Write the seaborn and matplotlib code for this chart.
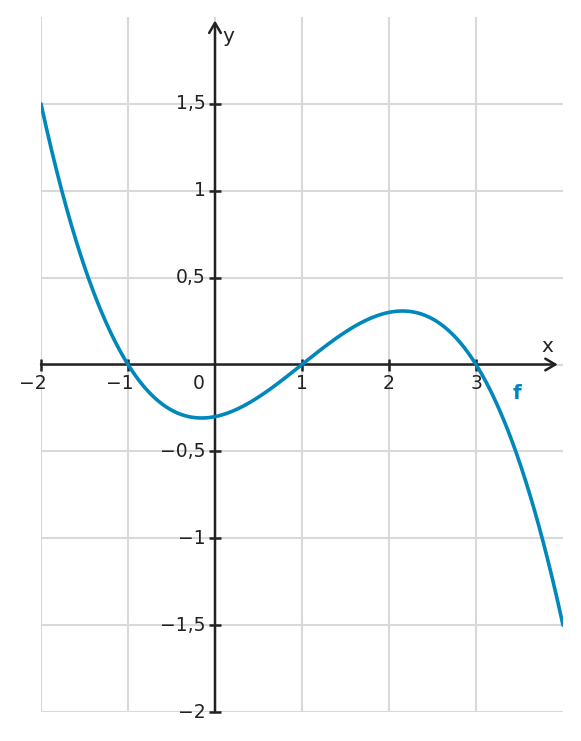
import numpy as np
import pandas as pd
import matplotlib
matplotlib.use("Agg")
import matplotlib.pyplot as plt
import seaborn as sns

# -------------------------
# Data: f(x) = a (x - r1)(x - r2)(x - r3)
# -------------------------
roots = [-1, 1, 3]
scale = -0.1
x_range = [-2, 4]
y_range = [-2, 2]
x_ticks = [-2, -1, 1, 2, 3]
x_tick_labels = ["\u22122", "\u22121", "1", "2", "3"]
y_ticks = [1.5, 1, 0.5, -0.5, -1, -1.5, -2]
y_tick_labels = ["1,5", "1", "0,5", "\u22120,5", "\u22121", "\u22121,5", "\u22122"]

xs = np.linspace(x_range[0], x_range[1], 600)
ys = scale * np.prod([xs - r for r in roots], axis=0)
df = pd.DataFrame({"x": xs, "y": ys})

# -------------------------
# Style
# -------------------------
sns.set_theme(style="white")
plt.rcParams["font.family"] = ["DejaVu Sans"]
axis_col = "#222222"
grid_col = "#d9d9d9"
curve_col = "#0087bb"
fs = 13.5

fig = plt.figure(figsize=(5.81, 7.41), dpi=100)
ax = fig.add_axes([41 / 581, 29 / 741, 522 / 581, 695 / 741])
ax.set_xlim(*x_range)
ax.set_ylim(*y_range)
for s in ax.spines.values():
    s.set_visible(False)

# grid
ax.set_xticks([-2, -1, 0, 1, 2, 3])
ax.set_yticks([-2, -1.5, -1, -0.5, 0, 0.5, 1, 1.5])
ax.grid(True, color=grid_col, linewidth=1.5)
ax.tick_params(length=0, labelbottom=False, labelleft=False)

# curve
sns.lineplot(data=df, x="x", y="y", ax=ax, color=curve_col, linewidth=2.6, zorder=5)
ax.set_xlabel("")
ax.set_ylabel("")

# axes with arrows
arrow = dict(arrowstyle="->,head_length=0.6,head_width=0.35", color=axis_col,
             linewidth=1.8, shrinkA=0, shrinkB=0)
ax.annotate("", xy=(3.94, 0), xytext=(-2, 0), arrowprops=arrow, zorder=4,
            annotation_clip=False)
ax.annotate("", xy=(0, 1.98), xytext=(0, -2), arrowprops=arrow, zorder=4,
            annotation_clip=False)

# tick marks
ax.plot(x_ticks, [0] * len(x_ticks), linestyle="none", marker="|", markersize=9,
        markeredgewidth=1.8, color=axis_col, zorder=4, clip_on=False)
ax.plot([0] * len(y_ticks), y_ticks, linestyle="none", marker="_", markersize=9,
        markeredgewidth=1.8, color=axis_col, zorder=4, clip_on=False)

# tick labels (negative labels hang the minus sign to the left of the digit)
for xv, lab in zip(x_ticks, x_tick_labels):
    shift = -0.09 if lab.startswith("\u2212") else 0
    ax.text(xv + shift, -0.055, lab, ha="center", va="top", fontsize=fs, color=axis_col)
ax.text(-0.19, -0.055, "0", ha="center", va="top", fontsize=fs, color=axis_col)
for yv, lab in zip(y_ticks, y_tick_labels):
    ax.text(-0.11, yv, lab, ha="right", va="center", fontsize=fs, color=axis_col)

# axis names and function label
ax.text(3.82, 0.05, "x", ha="center", va="bottom", fontsize=fs + 1, color=axis_col)
ax.text(0.09, 1.885, "y", ha="left", va="center", fontsize=fs + 1, color=axis_col)
ax.text(3.47, -0.165, "f", ha="center", va="center", fontsize=fs + 1,
        fontweight="bold", color=curve_col)

fig.savefig("out.png", dpi=100, facecolor="white")
